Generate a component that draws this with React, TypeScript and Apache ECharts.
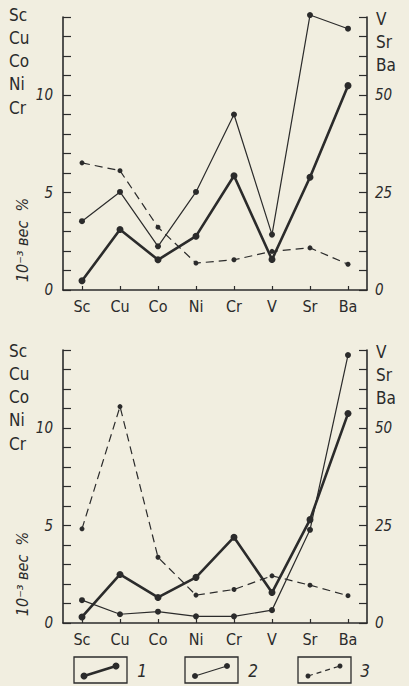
import React, { useEffect, useRef } from "react";
import * as echarts from "echarts";

// Categories (elements)
const categories = ["Sc", "Cu", "Co", "Ni", "Cr", "V", "Sr", "Ba"];
// Left-axis elements (10^-3 wt %) and right-axis elements (V, Sr, Ba)
const leftLabels = ["Sc", "Cu", "Co", "Ni", "Cr"];
const rightLabels = ["V", "Sr", "Ba"];
const leftTickLabels = [0, 5, 10];
const rightTickLabels = [0, 25, 50];
const LEFT_MAX = 14;
const RIGHT_MAX = 70;

// Values: Sc..Cr in left-axis units, V/Sr/Ba in right-axis units
// Upper panel
const top1 = [0.47, 3.1, 1.55, 2.76, 5.86, 7.8, 28.9, 52.4];
const top2 = [3.53, 5.03, 2.24, 5.03, 9.0, 14.2, 70.5, 67.0];
const top3 = [6.52, 6.12, 3.22, 1.38, 1.55, 9.9, 10.8, 6.6];
// Lower panel
const bot1 = [0.31, 2.49, 1.31, 2.34, 4.4, 7.8, 26.5, 53.7];
const bot2 = [1.17, 0.45, 0.58, 0.34, 0.34, 3.3, 23.9, 68.7];
const bot3 = [4.83, 11.1, 3.37, 1.43, 1.72, 12.1, 9.7, 7.0];

const legendNames = ["1", "2", "3"];

const INK = "#2b2b2b";
const BG = "#f1eee0";
const FONT = "'DejaVu Sans Condensed', 'DejaVu Sans', sans-serif";

function toLeft(arr: number[]) {
  const k = RIGHT_MAX / LEFT_MAX;
  return arr.map((v, i) => (rightLabels.includes(categories[i]) ? v / k : v));
}

export default function App() {
  const ref = useRef<HTMLDivElement>(null);
  useEffect(() => {
    if (!ref.current) return;
    const chart = echarts.init(ref.current, null, { renderer: "svg" });

    const grids = [
      { left: 63, top: 17, width: 304, height: 273 },
      { left: 63, top: 350, width: 304, height: 273 },
    ];

    const xAxisBase = (gi: number) => ({
      type: "category" as const,
      gridIndex: gi,
      data: categories,
      boundaryGap: true,
      axisLine: { lineStyle: { color: INK, width: 1.6 } },
      axisTick: { show: true, inside: true, alignWithLabel: true, length: 4, lineStyle: { color: INK, width: 1.2 } },
      axisLabel: { color: INK, fontSize: 16, fontFamily: FONT, margin: 8 },
      splitLine: { show: false },
    });

    const yLeft = (gi: number) => ({
      type: "value" as const,
      gridIndex: gi,
      position: "left" as const,
      min: 0,
      max: LEFT_MAX,
      interval: 1,
      axisLine: { show: true, lineStyle: { color: INK, width: 1.6 } },
      axisTick: { show: true, inside: true, length: 8, lineStyle: { color: INK, width: 1.2 } },
      axisLabel: {
        color: INK,
        fontSize: 15,
        fontStyle: "italic",
        fontFamily: FONT,
        margin: 10,
        formatter: (v: number) => (leftTickLabels.includes(v) ? String(v) : ""),
      },
      splitLine: { show: false },
    });

    const yRight = (gi: number) => ({
      type: "value" as const,
      gridIndex: gi,
      position: "right" as const,
      min: 0,
      max: RIGHT_MAX,
      interval: 5,
      axisLine: { show: true, lineStyle: { color: INK, width: 1.6 } },
      axisTick: { show: true, inside: true, length: 8, lineStyle: { color: INK, width: 1.2 } },
      axisLabel: {
        color: INK,
        fontSize: 15,
        fontStyle: "italic",
        fontFamily: FONT,
        margin: 8,
        formatter: (v: number) => (rightTickLabels.includes(v) ? String(v) : ""),
      },
      splitLine: { show: false },
    });

    const mk = (data: number[], kind: number, xi: number, yi: number) => ({
      type: "line" as const,
      xAxisIndex: xi,
      yAxisIndex: yi,
      data: toLeft(data),
      clip: false,
      symbol: "circle",
      symbolSize: kind === 0 ? 7 : kind === 1 ? 6 : 5,
      itemStyle: { color: INK },
      lineStyle: {
        color: INK,
        width: kind === 0 ? 2.6 : 1.2,
        type: kind === 2 ? ([8, 5] as any) : "solid",
      },
      emphasis: { disabled: true },
      z: kind === 0 ? 3 : 2,
    });

    const graphics: any[] = [];
    const panelTops = [17, 350];
    panelTops.forEach((t, pi) => {
      leftLabels.forEach((s, i) => {
        graphics.push({
          type: "text",
          left: 9,
          top: t - 8 + i * 23.3 + (pi === 1 ? 0 : -3),
          style: { text: s, fill: INK, font: `17px ${FONT}` },
        });
      });
      rightLabels.forEach((s, i) => {
        graphics.push({
          type: "text",
          left: 376,
          top: t - 7 + i * 23,
          style: { text: s, fill: INK, font: `17px ${FONT}` },
        });
      });
      graphics.push({
        type: "text",
        x: 22,
        y: pi === 0 ? 240 : 574,
        rotation: Math.PI / 2,
        style: {
          text: "10⁻³ вес  %",
          fill: INK,
          font: `italic 16px ${FONT}`,
          align: "center",
          verticalAlign: "middle",
        },
      });
    });

    // legend boxes
    const boxX = [74, 185, 298];
    const numX = [142, 253, 365];
    legendNames.forEach((n, i) => {
      const bx = boxX[i];
      graphics.push({
        type: "rect",
        shape: { x: bx, y: 657, width: 53, height: 26 },
        style: { fill: "none", stroke: INK, lineWidth: 1.3 },
      });
      const x1 = bx + 10, y1 = 676, x2 = bx + 42, y2 = 666;
      graphics.push({
        type: "line",
        shape: { x1, y1, x2, y2 },
        style: {
          stroke: INK,
          lineWidth: i === 0 ? 2.6 : 1.2,
          lineDash: i === 2 ? [5, 4] : null,
        },
      });
      const r = i === 0 ? 3.5 : i === 1 ? 3 : 2.5;
      graphics.push({ type: "circle", shape: { cx: x1, cy: y1, r }, style: { fill: INK } });
      graphics.push({ type: "circle", shape: { cx: x2, cy: y2, r }, style: { fill: INK } });
      graphics.push({
        type: "text",
        x: numX[i],
        y: 671,
        style: { text: n, fill: INK, font: `italic 17px ${FONT}`, align: "center", verticalAlign: "middle" },
      });
    });

    chart.setOption({
      animation: false,
      backgroundColor: BG,
      grid: grids,
      xAxis: [xAxisBase(0), xAxisBase(1)],
      yAxis: [yLeft(0), yRight(0), yLeft(1), yRight(1)],
      series: [
        mk(top3, 2, 0, 0),
        mk(top2, 1, 0, 0),
        mk(top1, 0, 0, 0),
        mk(bot3, 2, 1, 2),
        mk(bot2, 1, 1, 2),
        mk(bot1, 0, 1, 2),
      ],
      graphic: graphics,
    });
    return () => chart.dispose();
  }, []);
  return (
    <div
      ref={ref}
      style={{ position: "fixed", left: 0, top: 0, width: 409, height: 686 }}
    />
  );
}
